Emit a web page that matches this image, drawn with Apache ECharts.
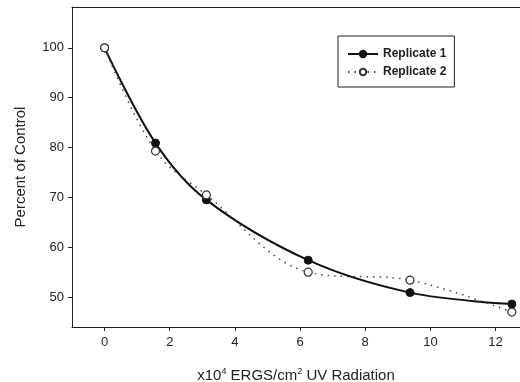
<!DOCTYPE html>
<html>
<head>
<meta charset="utf-8">
<script src="https://cdn.jsdelivr.net/npm/echarts@6/dist/echarts.min.js"></script>
<style>
  html, body { margin: 0; padding: 0; background: #fff; }
  #chart { width: 520px; height: 382px; }
</style>
</head>
<body>
<div id="chart"></div>
<script>
// dose in x10^4 ergs/cm^2
const dose = [0, 1.5625, 3.125, 6.25, 9.375, 12.5];
const replicate1 = [100, 80.9, 69.5, 57.4, 50.9, 48.6];
const replicate2 = [100, 79.3, 70.5, 55.0, 53.4, 47.0];
const xTicks = [0, 2, 4, 6, 8, 10, 12];
const yTicks = [50, 60, 70, 80, 90, 100];

const INK = "#222";
const FONT = "Liberation Sans, Arial, sans-serif";

const pairs = (ys) => dose.map((x, i) => [x, ys[i]]);

const chart = echarts.init(document.getElementById("chart"));
chart.setOption({
  animation: false,
  textStyle: { fontFamily: FONT, color: INK },
  grid: { left: 72, top: 7, right: 0, bottom: 55, outerBoundsMode: "none", containLabel: false },
  legend: {
    orient: "vertical",
    left: 338,
    top: 36,
    padding: [12, 8, 9, 9],
    itemGap: 6,
    itemWidth: 30,
    itemHeight: 8,
    borderColor: INK,
    borderWidth: 1,
    textStyle: { fontSize: 12, fontWeight: "bold", color: INK, fontFamily: FONT },
    data: ["Replicate 1", "Replicate 2"],
  },
  xAxis: [
    {
      type: "value",
      min: -1,
      max: 12.75,
      splitLine: { show: false },
      axisLine: { onZero: false, lineStyle: { color: INK, width: 1 } },
      axisTick: { customValues: xTicks, length: 4, lineStyle: { color: INK } },
      axisLabel: { customValues: xTicks, fontSize: 13, margin: 9, color: INK },
      name: "x10{sup|4} ERGS/cm{sup|2} UV Radiation",
      nameLocation: "middle",
      nameGap: 40,
      nameTextStyle: {
        fontSize: 15,
        color: INK,
        rich: { sup: { fontSize: 9, padding: [0, 0, 8, 0], color: INK } },
      },
    },
    {
      type: "value",
      position: "top",
      min: -1,
      max: 12.75,
      splitLine: { show: false },
      axisLine: { show: true, lineStyle: { color: INK, width: 1 } },
      axisTick: { show: false },
      axisLabel: { show: false },
    },
  ],
  yAxis: {
    type: "value",
    min: 44,
    max: 108.2,
    splitLine: { show: false },
    axisLine: { show: true, onZero: false, lineStyle: { color: INK, width: 1 } },
    axisTick: { show: true, customValues: yTicks, length: 4, lineStyle: { color: INK } },
    axisLabel: { customValues: yTicks, fontSize: 13, margin: 8, color: INK },
    name: "Percent of Control",
    nameLocation: "middle",
    nameGap: 44,
    nameTextStyle: { fontSize: 15, color: INK },
  },
  series: [
    {
      name: "Replicate 2",
      type: "line",
      data: pairs(replicate2),
      smooth: 0.35,
      symbol: "circle",
      symbolSize: 8,
      itemStyle: { color: "#fff", borderColor: "#333", borderWidth: 1.2 },
      lineStyle: { color: "#444", width: 1.5, type: [1.5, 5] },
      emphasis: { disabled: true },
      z: 3,
    },
    {
      name: "Replicate 1",
      type: "line",
      data: pairs(replicate1),
      smooth: 0.35,
      symbol: "circle",
      symbolSize: 8,
      itemStyle: { color: "#111", borderColor: "#111", borderWidth: 1 },
      lineStyle: { color: "#111", width: 2 },
      emphasis: { disabled: true },
      z: 2,
    },
  ],
});
</script>
</body>
</html>
